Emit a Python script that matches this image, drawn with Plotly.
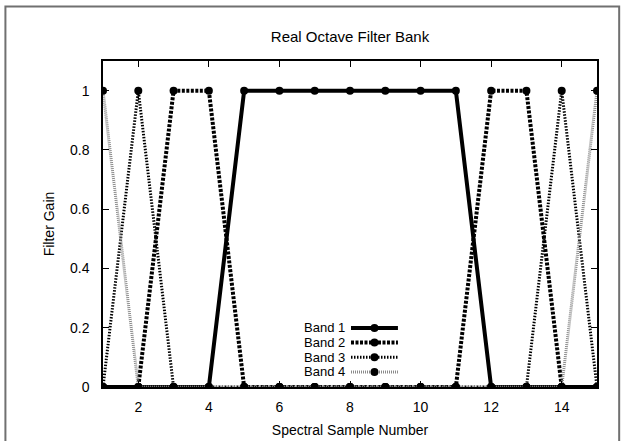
import plotly.graph_objects as go

# ---- data ----
samples = list(range(1, 16))
band1 = [0, 0, 0, 0, 1, 1, 1, 1, 1, 1, 1, 0, 0, 0, 0]
band2 = [0, 0, 1, 1, 0, 0, 0, 0, 0, 0, 0, 1, 1, 0, 0]
band3 = [0, 1, 0, 0, 0, 0, 0, 0, 0, 0, 0, 0, 0, 1, 0]
band4 = [1, 0, 0, 0, 0, 0, 0, 0, 0, 0, 0, 0, 0, 0, 1]
band_names = ["Band 1", "Band 2", "Band 3", "Band 4"]
x_ticks = [2, 4, 6, 8, 10, 12, 14]
y_ticks = [0, 0.2, 0.4, 0.6, 0.8, 1]
y_tick_labels = ["0", "0.2", "0.4", "0.6", "0.8", "1"]

FONT = "Liberation Sans, Arial, sans-serif"
styles = [
    dict(color="black", width=4, dash="solid"),
    dict(color="black", width=4, dash="3px,1.5px"),
    dict(color="black", width=3, dash="1.5px,1.5px"),
    dict(color="#8a8a8a", width=3, dash="1px,1px"),
]

fig = go.Figure()
for name, ys, st in zip(band_names, [band1, band2, band3, band4], styles):
    fig.add_trace(go.Scatter(
        x=samples, y=ys, name=name, mode="lines+markers",
        line=st,
        marker=dict(symbol="circle", size=8, color="black"),
        showlegend=False,
    ))

# plot geometry (pixels)
W, H = 624, 441
L, R, T, B = 102.7, 597.3, 60.7, 387.5
pw, ph = R - L, B - T

def px2x(px):
    return (px - L) / pw

def py2y(py):
    return (B - py) / ph

shapes = []
annotations = []
# outer gray frame
shapes.append(dict(type="rect", xref="paper", yref="paper",
                   x0=px2x(5), x1=px2x(619.5), y0=py2y(6), y1=py2y(460),
                   line=dict(color="#707070", width=2), layer="below"))

# manual gnuplot-style legend (text left, sample right)
row0, row_step = 328.3, 14.7
for i, (name, st) in enumerate(zip(band_names, styles)):
    ypix = row0 + i * row_step
    yp = py2y(ypix)
    annotations.append(dict(xref="paper", yref="paper", x=px2x(346), y=yp,
                            text=name, showarrow=False, xanchor="right",
                            yanchor="middle", borderpad=0,
                            font=dict(family=FONT, size=13, color="black")))
    shapes.append(dict(type="line", xref="paper", yref="paper",
                       x0=px2x(351), x1=px2x(398), y0=yp, y1=yp,
                       line=dict(color=st["color"], width=st["width"],
                                 dash=st["dash"])))
    shapes.append(dict(type="circle", xref="paper", yref="paper",
                       xsizemode="pixel", ysizemode="pixel",
                       xanchor=px2x(374.5), yanchor=yp,
                       x0=-4, x1=4, y0=-4, y1=4,
                       fillcolor="black", line=dict(color="black", width=0)))

fig.update_layout(
    width=W, height=H, autosize=False,
    margin=dict(l=L, r=W - R, t=T, b=H - B),
    paper_bgcolor="white", plot_bgcolor="white",
    font=dict(family=FONT, size=14, color="black"),
    title=dict(text="Real Octave Filter Bank", x=0.5, xref="paper",
               y=1 - 37 / H, yref="container", yanchor="middle",
               xanchor="center", font=dict(family=FONT, size=15)),
    shapes=shapes, annotations=annotations,
)
fig.update_xaxes(
    range=[1, 15], tickvals=x_ticks, ticks="inside", ticklen=6,
    tickcolor="black", showline=True, linecolor="black", linewidth=1.5,
    mirror="ticks", showgrid=False, zeroline=False, ticklabelstandoff=6,
    automargin=False,
    title=dict(text="Spectral Sample Number", standoff=12,
               font=dict(family=FONT, size=14)),
    tickfont=dict(family=FONT, size=14),
)
fig.update_yaxes(
    range=[0, 1.1], tickvals=y_ticks, ticktext=y_tick_labels,
    ticks="inside", ticklen=6, tickcolor="black", showline=True,
    linecolor="black", linewidth=1.5, mirror="ticks", showgrid=False,
    zeroline=False, ticklabelstandoff=9, automargin=False,
    title=dict(text="Filter Gain", standoff=12,
               font=dict(family=FONT, size=14)),
    tickfont=dict(family=FONT, size=14),
)

fig.write_html("out.html")
